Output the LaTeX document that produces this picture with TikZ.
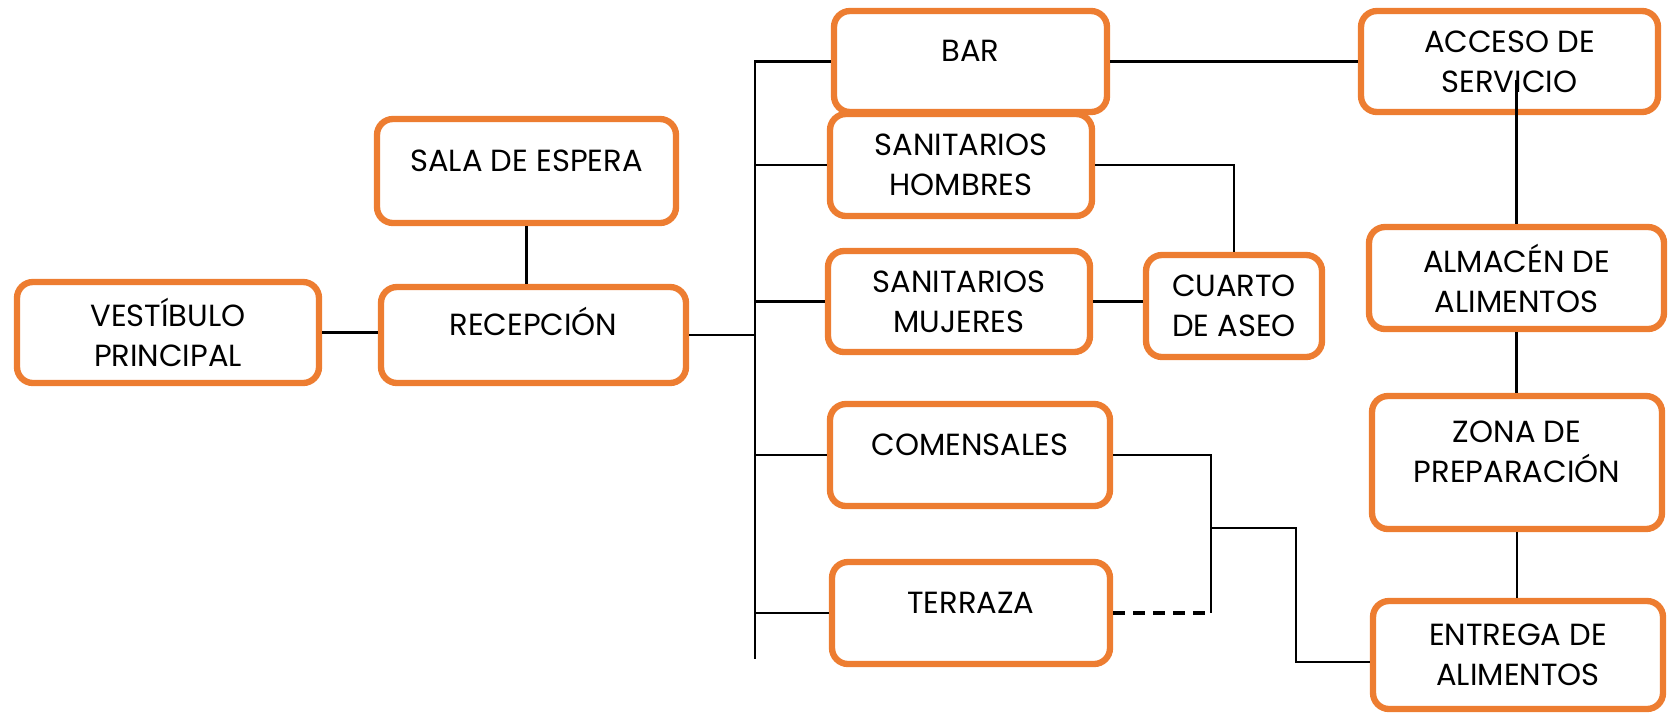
\documentclass[tikz,border=0pt]{standalone}
\usepackage{fontspec}
\setmainfont{Poppins}
\definecolor{naranja}{HTML}{ED7D31}
\begin{document}
\begin{tikzpicture}[
	caja/.style={draw=naranja, line width=1.8pt, rounded corners=0.16cm, fill=white, align=center, inner sep=0pt, minimum width=2.66cm, minimum height=1.02cm, font=\fontsize{8.7}{11.4}\selectfont},
	arriba/.style={text height=0.21cm, text depth=0.21cm},
	linea/.style={line width=0.75pt},
	trazos/.style={line width=1.2pt, dash pattern=on 1.2mm off 0.8mm}
]
	\useasboundingbox (0,0) rectangle (16.69,7.12);
	% entrada
	\node[caja, minimum width=3.02cm, minimum height=1.01cm] (vest) at (1.68,3.795) {VESTÍBULO\\PRINCIPAL};
	\node[caja, arriba, minimum width=2.99cm, minimum height=1.04cm] (sala) at (5.265,5.41) {SALA DE ESPERA};
	\node[caja, arriba, minimum width=3.05cm, minimum height=0.96cm] (recep) at (5.335,3.77) {RECEPCIÓN};
	% zonas de clientes
	\node[caja, arriba, minimum width=2.73cm, minimum height=1.01cm] (bar) at (9.705,6.505) {BAR};
	\node[caja, minimum width=2.62cm] (sanh) at (9.61,5.47) {SANITARIOS\\HOMBRES};
	\node[caja, minimum width=2.62cm, minimum height=1.01cm] (sanm) at (9.59,4.105) {SANITARIOS\\MUJERES};
	\node[caja, minimum width=1.76cm] (cuarto) at (12.34,4.06) {CUARTO\\DE ASEO};
	\node[caja, arriba, minimum width=2.80cm] (com) at (9.70,2.57) {COMENSALES};
	\node[caja, arriba, minimum width=2.78cm] (terr) at (9.71,0.99) {TERRAZA};
	% cocina
	\node[caja, minimum width=2.97cm, minimum height=1.01cm] (acceso) at (15.095,6.505) {ACCESO DE\\SERVICIO};
	\node[caja, minimum width=2.95cm] (almacen) at (15.165,4.34) {ALMACÉN DE\\ALIMENTOS};
	\node[caja, text depth=0.21cm, minimum width=2.90cm, minimum height=1.33cm] (zona) at (15.17,2.495) {ZONA DE\\PREPARACIÓN};
	\node[caja, minimum width=2.90cm, minimum height=1.08cm] (entrega) at (15.18,0.57) {ENTREGA DE\\ALIMENTOS};

	\coordinate (bus) at (7.55,0.53);
	\coordinate (union) at (12.11,1.84);
	\coordinate (codo) at (12.96,0.50);

	\draw[linea] (vest.east) -- (vest.east -| recep.west);
	\draw[linea] (sala.south) -- (sala.south |- recep.north);
	\draw[linea] (recep.east) -- (recep.east -| bus);
	\draw[linea] (bar.west) -| (bus);
	\foreach \n in {sanh,sanm,com,terr}
		\draw[linea] (\n.west) -- (\n.west -| bus);
	\draw[linea] (bar.east) -- (acceso.west);
	\draw[linea] (sanh.east) -| (cuarto.north);
	\draw[linea] (sanm.east) -- (sanm.east -| cuarto.west);
	\draw[linea] (com.east) -| (terr.east -| union);
	\draw[trazos] (terr.east) -- (terr.east -| union);
	\draw[linea] (union) -| (codo) -- (codo -| entrega.west);
	\draw[linea] ([yshift=-0.18cm]acceso.center -| almacen.north) -- (almacen.north);
	\draw[linea] (almacen.south) -- (almacen.south |- zona.north);
	\draw[linea] (zona.south) -- (zona.south |- entrega.north);
\end{tikzpicture}
\end{document}
